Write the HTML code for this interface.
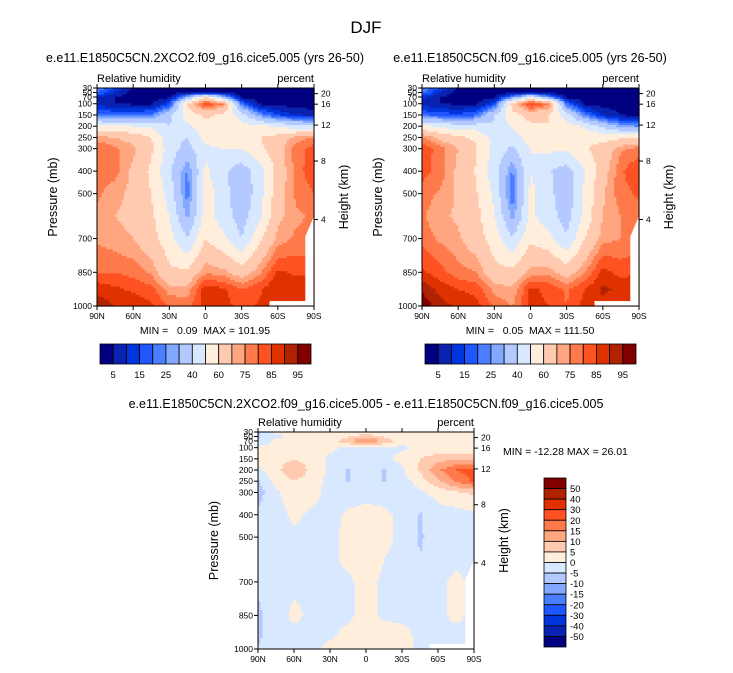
<!DOCTYPE html>
<html><head><meta charset="utf-8"><style>
html,body{margin:0;padding:0;background:#fff;}
svg{display:block;font-family:"Liberation Sans",Arial,sans-serif;}
</style></head><body>
<svg id="chart" width="733" height="673" viewBox="0 0 733 673">
<text x="366" y="33" font-size="17" text-anchor="middle">DJF</text>
<text x="205" y="62" font-size="12.5" text-anchor="middle">e.e11.E1850C5CN.2XCO2.f09_g16.cice5.005 (yrs 26-50)</text>
<text x="530" y="62" font-size="12.5" text-anchor="middle">e.e11.E1850C5CN.f09_g16.cice5.005 (yrs 26-50)</text>
<text x="366" y="408" font-size="12.5" text-anchor="middle">e.e11.E1850C5CN.2XCO2.f09_g16.cice5.005 - e.e11.E1850C5CN.f09_g16.cice5.005</text>
<text x="205" y="334" font-size="10.5" text-anchor="middle" xml:space="preserve">MIN =   0.09  MAX = 101.95</text>
<text x="530" y="334" font-size="10.5" text-anchor="middle" xml:space="preserve">MIN =   0.05  MAX = 111.50</text>
<text x="503" y="455" font-size="10.5">MIN = -12.28  MAX =  26.01</text>
</svg>
<script>
const lats = ["90N","75N","60N","45N","30N","15N","0","15S","30S","45S","60S","75S","90S"];
const pLevels = [30,50,70,100,150,200,250,300,400,500,600,700,850,925,1000];
const rhLevels = [5,10,15,20,25,30,40,50,60,70,75,80,85,90,95];
const rhLabels = ["5","15","25","40","60","75","85","95"];
const diffLevels = [-50,-40,-30,-20,-15,-10,-5,0,5,10,15,20,30,40,50];
const diffLabels = ["50","40","30","20","15","10","5","0","-5","-10","-15","-20","-30","-40","-50"];
const latTicks = ["90N","60N","30N","0","30S","60S","90S"];
const pTicks = [30,50,70,100,150,200,250,300,400,500,700,850,1000];
const kmTicks = [20,16,12,8,4];
const kmPressure = [55,102,195,355,615];
const rh2x = [
[25,15,3,2,2,2,2,2,2,2,2,2,2],
[20,10,3,2,2,3,3,3,2,2,2,2,2],
[10,5,3,2,4,30,60,30,3,2,2,2,2],
[8,5,4,4,15,62,84,76,20,4,3,2,2],
[22,20,20,22,38,55,62,58,45,25,15,10,8],
[52,52,50,48,40,48,56,56,54,52,48,44,42],
[72,70,66,60,44,40,54,56,58,60,64,72,76],
[80,76,72,62,45,36,48,50,50,58,66,78,82],
[78,77,68,58,42,24,52,42,34,45,64,77,84],
[76,72,68,60,46,22,56,44,32,46,66,76,80],
[74,70,68,62,50,28,55,45,35,48,68,74,76],
[74,72,70,64,54,40,60,52,40,58,72,76,76],
[80,80,78,74,62,62,74,72,65,74,86,84,84],
[88,86,84,82,72,72,88,86,80,84,90,88,88],
[94,90,88,86,80,78,88,88,82,86,88,84,84]];
const rhCtl = [
[25,15,3,2,2,2,2,2,2,2,2,2,2],
[22,10,3,2,2,2,2,2,2,2,2,2,2],
[12,5,3,2,3,24,48,24,3,2,2,2,2],
[8,5,4,4,15,64,86,78,20,4,3,2,2],
[20,18,16,20,40,57,64,60,44,22,10,5,3],
[52,48,44,45,41,52,58,60,55,48,38,28,24],
[76,68,62,58,46,44,56,60,60,58,56,58,58],
[84,77,70,61,47,38,50,52,52,59,64,74,77],
[82,78,68,59,44,24,50,41,35,50,66,79,85],
[78,74,69,61,48,20,53,43,33,52,69,78,81],
[76,71,69,63,51,27,52,45,35,53,70,75,77],
[78,74,71,65,55,41,58,53,41,60,73,75,77],
[86,82,77,75,63,63,72,73,66,75,87,83,85],
[94,88,85,83,73,71,86,84,79,85,91,89,89],
[99,92,89,87,79,75,86,85,80,87,89,85,85]];
const rhDiff = [
[-6,1,1,1,1,1,1,1,1,1,1,1,1],
[-6,-1,1,1,1,4,8,4,1,1,1,1,1],
[-4,1,1,1,2,9,16,9,2,1,1,1,1],
[1,1,1,1,1,-1,-3,-1,-1,1,1,1,1],
[1,3,5,3,-1,-2,-2,-2,2,5,8,9,9],
[-1,4,8,4,-1,-5.5,-2,-5.5,-1,6,14,20,22],
[-6,2,5,3,-2,-5.5,-2,-5.5,-2,2,9,16,21],
[-7,-1,3,2,-2,-3,-2,-2,-2,-1,2,4,6],
[-4,-2,1,-1,-2,1,2,1,-1,-5.5,-2,-2,-1],
[-2,-2,-1,-1,-2,2,3,1,-1,-5.5,-3,-2,-1],
[-2,-1,-1,-1,-1,1,3,0,-1,-5,-2,-1,-1],
[-4,-2,-1,-1,-1,-1,2,-1,-1,-2,-1,1,-1],
[-6,-2,1,-1,-1,-1,2,-1,-1,-1,-1,1,-1],
[-6,-2,-1,-1,-1,1,2,2,1,-1,-1,-1,-1],
[-5,-2,-1,-1,1,3,2,3,2,-1,-1,-1,-1]];
const colors = ["#000080","#0a22b0","#0034dc","#1f56ff","#4a7eff","#82a8ff","#b4c9ff","#d8e8ff","#ffeedc","#ffcab0","#ffa57f","#ff7a4a","#ff5222","#e03200","#b02200","#800000"];

const NS="http://www.w3.org/2000/svg";
const svg=document.getElementById('chart');
function mk(tag,attrs,parent){const e=document.createElementNS(NS,tag);for(const k in attrs)e.setAttribute(k,attrs[k]);(parent||svg).appendChild(e);return e;}
function colorFor(v,levels){let i=0;while(i<levels.length&&v>=levels[i])i++;return colors[i];}
function sample(grid,fx,p){
  let j=0;while(j<pLevels.length-2&&p>pLevels[j+1])j++;
  const ty=Math.max(0,Math.min(1,(p-pLevels[j])/(pLevels[j+1]-pLevels[j])));
  const i=Math.min(lats.length-2,Math.floor(fx));const tx=fx-i;
  const a=grid[j][i]*(1-tx)+grid[j][i+1]*tx;
  const b=grid[j+1][i]*(1-tx)+grid[j+1][i+1]*tx;
  return a*(1-ty)+b*ty;
}
function drawPanel(name,x0,y0,w,h,grid,levels,mask){
  const g=mk('g',{});
  
  
  const yS=p=>y0+(p-30)/970*h;
  const nx=96,ny=100;
  for(let r=0;r<ny;r++){
    const p=30+970*(r+0.5)/ny;
    let runStart=0,runCol=null;
    for(let c=0;c<=nx;c++){
      let col=null;
      if(c<nx){const f=(c+0.5)/nx*(lats.length-1);col=colorFor(sample(grid,f,p),levels);}
      if(col!==runCol){
        if(runCol!==null){
          const cell=mk('rect',{x:(x0+runStart*w/nx).toFixed(2),y:(y0+r*h/ny).toFixed(2),width:((c-runStart)*w/nx+0.6).toFixed(2),height:(h/ny+0.6).toFixed(2),fill:runCol},g);
          
          
        }
        runStart=c;runCol=col;
      }
    }
  }
  if(mask){
    const m1=mk('polygon',{points:`${x0+w*0.96},${yS(690)} ${x0+w},${yS(600)} ${x0+w},${y0+h} ${x0+w*0.96},${y0+h}`,fill:'#fff'});
    
    
    const m2=mk('rect',{x:x0+w*0.795,y:yS(978),width:w*0.2,height:y0+h-yS(978),fill:'#fff'});
    
    
  }
  const fr=mk('rect',{x:x0,y:y0,width:w,height:h,fill:'none',stroke:'#000','stroke-width':1});
  
  
  latTicks.forEach((t,i)=>{
    const x=x0+i/(latTicks.length-1)*w;
    mk('line',{x1:x,y1:y0+h,x2:x,y2:y0+h+4,stroke:'#000'});
    mk('line',{x1:x,y1:y0,x2:x,y2:y0-4,stroke:'#000'});
    const tx=mk('text',{x:x,y:y0+h+13,'font-size':8.5,'text-anchor':'middle'});tx.textContent=t;
    
    
  });
  pTicks.forEach(p=>{
    const y=yS(p);
    mk('line',{x1:x0,y1:y,x2:x0-4,y2:y,stroke:'#000'});
    const tx=mk('text',{x:x0-5,y:y+3,'font-size':8.5,'text-anchor':'end'});tx.textContent=p;
    
    
  });
  kmTicks.forEach((k,i)=>{
    const y=yS(kmPressure[i]);
    mk('line',{x1:x0+w,y1:y,x2:x0+w+4,y2:y,stroke:'#000'});
    const tx=mk('text',{x:x0+w+7,y:y+3,'font-size':8.5});tx.textContent=k;
    
    
  });
  const l1=mk('text',{x:x0,y:y0-6,'font-size':11});l1.textContent='Relative humidity';
  
  
  const l2=mk('text',{x:x0+w,y:y0-6,'font-size':11,'text-anchor':'end'});l2.textContent='percent';
  
  
  const ya=mk('text',{x:0,y:0,'font-size':12.5,'text-anchor':'middle',transform:`translate(${x0-40},${y0+h/2}) rotate(-90)`});ya.textContent='Pressure (mb)';
  
  
  const yb=mk('text',{x:0,y:0,'font-size':12.5,'text-anchor':'middle',transform:`translate(${x0+w+34},${y0+h/2}) rotate(-90)`});yb.textContent='Height (km)';
  
  
}
function hBar(name,x0,y0,w,h){
  const bw=w/colors.length;
  colors.forEach((c,i)=>{
    const r=mk('rect',{x:x0+i*bw,y:y0,width:bw,height:h,fill:c,stroke:'#000','stroke-width':0.8});
    
    
  });
  rhLabels.forEach((l,k)=>{
    const i=2*k+1;
    const t=mk('text',{x:x0+i*bw,y:y0+h+14,'font-size':9.5,'text-anchor':'middle'});t.textContent=l;
    
    
  });
}
function vBar(name,x0,y0,w,h){
  const bh=h/colors.length;
  colors.slice().reverse().forEach((c,i)=>{
    const r=mk('rect',{x:x0,y:y0+i*bh,width:w,height:bh,fill:c,stroke:'#000','stroke-width':0.8});
    
    
  });
  diffLabels.forEach((l,i)=>{
    const t=mk('text',{x:x0+w+4,y:y0+(i+1)*bh+3.5,'font-size':9.5});t.textContent=l;
    
    
  });
}
drawPanel('left-panel',97,88,217,218,rh2x,rhLevels,true);
drawPanel('right-panel',422,88,217,218,rhCtl,rhLevels,true);
drawPanel('diff-panel',258,432,216,217,rhDiff,diffLevels,true);
hBar('left-colorbar',100,344,211,20);
hBar('right-colorbar',425,344,211,20);
vBar('diff-colorbar',544,478,22,169);
</script>
</body></html>
